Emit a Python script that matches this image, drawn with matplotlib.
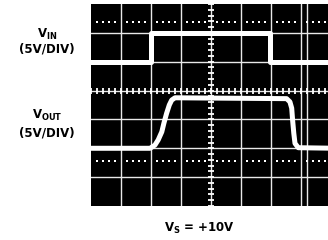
import numpy as np
import matplotlib
matplotlib.use("Agg")
import matplotlib.pyplot as plt

# traces, in scope divisions (x: 0..8 from left edge, y: 0..7 from bottom)
vin_x = [0.0, 2.0, 2.0, 5.97, 5.97, 8.2]
vin_y = [5.0, 5.0, 6.0, 6.0, 5.0, 5.0]

vout_x = [0.0, 1.97, 2.13, 2.24, 2.36, 2.43, 2.52, 2.61, 2.69, 2.80,
          6.52, 6.63, 6.69, 6.72, 6.76, 6.80, 6.91, 8.2]
vout_y = [2.0, 2.0, 2.11, 2.29, 2.57, 2.87, 3.21, 3.50, 3.67, 3.75,
          3.72, 3.61, 3.39, 2.98, 2.52, 2.17, 2.02, 2.0]

grid_x = [1, 2, 3, 4, 5, 6, 7, 7.2]
grid_y = [1, 2, 3, 4, 5, 6]
dot_rows = [6.37, 1.56]

fig = plt.figure(figsize=(3.28, 2.40), dpi=100)
W, H = 328, 240
ax = fig.add_axes([91 / W, (H - 206) / H, 240 / W, 202 / H])
ax.set_facecolor("black")
ax.set_xlim(0, 8)
ax.set_ylim(0, 7)
for s in ax.spines.values():
    s.set_visible(False)
ax.set_xticks([])
ax.set_yticks([])

for gx in grid_x:
    ax.axvline(gx, color="#e8e8e8", lw=1.0)
for gy in grid_y:
    ax.axhline(gy, color="#e8e8e8", lw=1.0)

# minor ticks on the centre axes
sub_x = np.arange(0, 8.01, 0.2)
sub_y = np.arange(0, 7.01, 0.2)
ax.plot(sub_x, np.full(len(sub_x), 4), ls="none", marker="|", ms=4.5, mew=1.3, color="white")
ax.plot(np.full(len(sub_y), 4), sub_y, ls="none", marker="_", ms=4.5, mew=1.3, color="white")

# dotted marker rows
dx = [i + f for i in range(8) for f in (0.2, 0.4, 0.6, 0.8)]
for r in dot_rows:
    ax.plot(dx, np.full(len(dx), r), ls="none", marker="s", ms=1.8, color="white", mew=0)

ax.plot(vin_x, vin_y, color="white", lw=3.6, solid_joinstyle="round")
ax.plot(vout_x, vout_y, color="white", lw=3.6, solid_joinstyle="round")

tk = dict(ha="center", va="center", fontweight="bold", fontsize=8.5, family="DejaVu Sans")
fig.text(47 / W, 1 - 34 / H, r"V$_{\mathbf{IN}}$", **tk)
fig.text(47 / W, 1 - 48.5 / H, "(5V/DIV)", **tk)
fig.text(47 / W, 1 - 115 / H, r"V$_{\mathbf{OUT}}$", **tk)
fig.text(47 / W, 1 - 133 / H, "(5V/DIV)", **tk)
fig.text(199 / W, 1 - 228 / H, r"V$_{\mathbf{S}}$ = +10V", **tk)

fig.savefig("out.png", dpi=100, facecolor="white")
